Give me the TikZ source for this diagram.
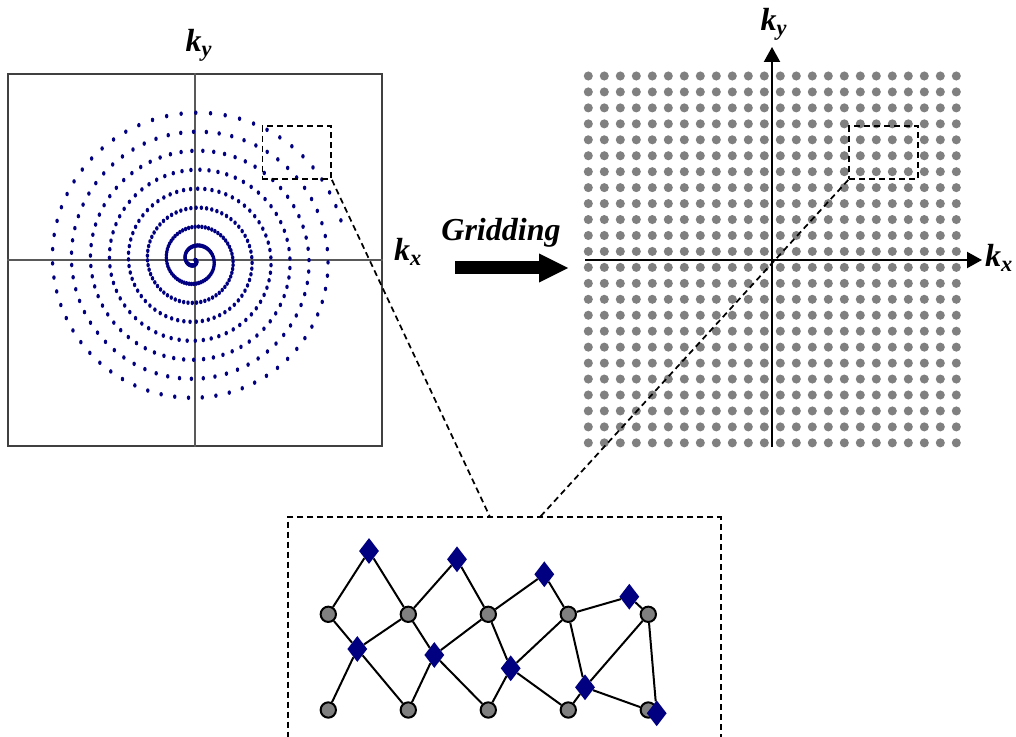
\documentclass[tikz,border=0pt]{standalone}
\usepackage{fontspec}
\setmainfont{Liberation Serif}
\usetikzlibrary{arrows.meta, shapes.geometric}

\definecolor{traza}{RGB}{0,0,128}
\definecolor{rejilla}{RGB}{128,128,128}
\newcommand{\kk}[1]{\textit{k}\textsubscript{#1}}

\begin{document}
\begin{tikzpicture}[
            x=0.75pt, y=-0.75pt,
            etiq/.style={font=\fontsize{24}{28}\selectfont\bfseries\itshape, inner sep=0pt},
            marco/.style={draw=black!75, line width=0.9pt, minimum width=280.5pt,
                          minimum height=279pt, inner sep=0pt},
            eje/.style={draw=black!65, line width=0.8pt},
            ejeflecha/.style={line width=1.6pt, -{Triangle[length=11.25pt, width=12pt]}},
            muestra/.style={fill=traza},
            punto/.style={fill=rejilla},
            zona/.style={draw, dashed, dash pattern=on 4.5pt off 3pt, line width=1.3pt,
                         minimum width=51.5pt, minimum height=39.75pt, inner sep=0pt},
            lupa/.style={zona, minimum width=324.5pt, minimum height=210pt},
            enlace/.style={dashed, dash pattern=on 4.5pt off 3pt, line width=1.3pt},
            gordo/.style={line width=9.75pt, -{Triangle[length=22.5pt, width=20pt]}},
            nodoc/.style={circle, draw, line width=1.5pt, fill=rejilla, minimum size=11.5pt, inner sep=0pt},
            nodod/.style={diamond, fill=traza, minimum width=15pt, minimum height=19.5pt, inner sep=0pt},
            arista/.style={line width=1.5pt}
        ]
        \useasboundingbox (0,0) rectangle (1016,737);

        % --- Trayectoria espiral ---
        \node[marco] (espiral) at (195,260) {};
        \draw[eje] (espiral.north) -- (espiral.south);
        \draw[eje] (espiral.west) -- (espiral.east);
        \foreach \i in {0,...,500} {
            \fill[muestra] (195,260) ++({\i*5.7296}:{0.3024*\i}) ellipse[x radius=1.3pt, y radius=1.7pt];
        }
        \node[etiq] (ky1) at (199,45)  {\kk{y}};
        \node[etiq] (kx1) at (408,252) {\kk{x}};
        \node[zona] (zona1) at (296.7,152.5) {};

        % --- Flecha de gridding ---
        \node[font=\fontsize{24}{28}\selectfont\bfseries\itshape, inner sep=0pt] (grid) at (501,233) {Gridding};
        \coordinate (g-ini) at (455,268);
        \coordinate (g-fin) at (569,268);
        \draw[gordo] (g-ini) -- (g-fin);

        % --- Rejilla cartesiana ---
        \foreach \i in {0,...,23} {
            \foreach \j in {0,...,23} {
                \fill[punto] ({588.3+16*\i},{76+15.95*\j}) circle[radius=3.4pt];
            }
        }
        \coordinate (ax-i) at (585,260);
        \coordinate (ax-d) at (982,260);
        \coordinate (ay-b) at (772,447);
        \coordinate (ay-a) at (772,47);
        \draw[ejeflecha] (ax-i) -- (ax-d);
        \draw[ejeflecha] (ay-b) -- (ay-a);
        \node[etiq] (ky2) at (774,24)  {\kk{y}};
        \node[etiq] (kx2) at (999,258) {\kk{x}};
        \node[zona] (zona2) at (883.5,152.5) {};

        % --- Ampliacion ---
        \node[lupa] (lupa) at (504.4,657) {};
        \coordinate (l-a) at (490,517);
        \coordinate (l-b) at (540,517);
        \draw[enlace] (zona1.south east) -- (l-a);
        \draw[enlace] (zona2.south west) -- (l-b);

        \node[nodoc] (c1) at (328.3,614.3) {};
        \node[nodoc] (c2) at (408.3,614.3) {};
        \node[nodoc] (c3) at (488.3,614.3) {};
        \node[nodoc] (c4) at (568.3,614.3) {};
        \node[nodoc] (c5) at (648.3,614.3) {};
        \node[nodoc] (b1) at (328.3,710) {};
        \node[nodoc] (b2) at (408.3,710) {};
        \node[nodoc] (b3) at (488.3,710) {};
        \node[nodoc] (b4) at (568.3,710) {};
        \node[nodoc] (b5) at (648.3,710) {};

        \node[nodod] (d1) at (369,551)     {};
        \node[nodod] (d2) at (457,559.3)   {};
        \node[nodod] (d3) at (544.3,574.3) {};
        \node[nodod] (d4) at (629.3,596.7) {};
        \node[nodod] (d5) at (357.3,649)   {};
        \node[nodod] (d6) at (434.3,655)   {};
        \node[nodod] (d7) at (510.7,668.3) {};
        \node[nodod] (d8) at (585,687.3)   {};
        \node[nodod] (d9) at (656.7,713.3) {};

        \draw[arista] (c1) -- (d1) -- (c2) -- (d2) -- (c3) -- (d3) -- (c4) -- (d4) -- (c5);
        \draw[arista] (c1) -- (d5) -- (c2) -- (d6) -- (c3) -- (d7) -- (c4) -- (d8) -- (c5) -- (d9);
        \draw[arista] (b1) -- (d5) -- (b2) -- (d6) -- (b3) -- (d7) -- (b4) -- (d8) -- (b5);

        \end{tikzpicture}
\end{document}
